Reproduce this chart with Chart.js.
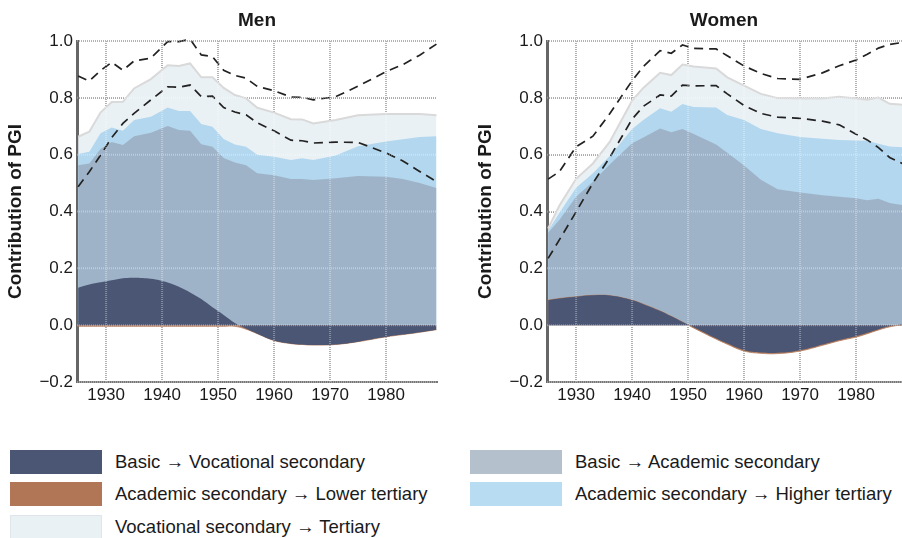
<!DOCTYPE html>
<html>
<head>
<meta charset="utf-8">
<script src="https://cdn.jsdelivr.net/npm/chart.js@4/dist/chart.umd.min.js"></script>
<style>
  html, body { margin:0; padding:0; background:#fff; overflow:hidden; }
  body { width:902px; height:538px; position:relative; font-family:'Liberation Sans', Arial, sans-serif; color:#1a1a1a; }
  canvas { position:absolute; top:0; }
  #men { left:0; }
  #women { left:470px; }
  .title { position:absolute; top:9px; font-weight:bold; font-size:19px; line-height:22px; transform:translateX(-50%); }
  .item { position:absolute; height:25px; display:flex; align-items:center; font-size:18.5px; white-space:nowrap; }
  .sw { width:92px; height:24px; margin-right:13px; box-sizing:border-box; flex:none; }
</style>
</head>
<body>
<canvas id="men" width="450" height="420"></canvas>
<canvas id="women" width="450" height="420"></canvas>
<div class="title" style="left:257px">Men</div>
<div class="title" style="left:724px">Women</div>
<div id="legend"></div>
<script>
// --- data: stacked contributions, one value per birth year ---
const menYears       = [1925,1927,1929,1931,1933,1935,1938,1941,1943,1945,1947,1949,1951,1953,1955,1957,1960,1963,1965,1967,1971,1975,1980,1983,1986,1989];
const menBasicVoc    = [0.132,0.143,0.151,0.158,0.165,0.167,0.163,0.150,0.135,0.115,0.092,0.063,0.036,0.008,-0.012,-0.030,-0.054,-0.065,-0.068,-0.070,-0.068,-0.058,-0.041,-0.033,-0.025,-0.016];
const menAcadLower   = [-0.004,-0.004,-0.004,-0.004,-0.004,-0.004,-0.004,-0.004,-0.004,-0.004,-0.004,-0.004,-0.004,-0.004,-0.002,0,0,0,0,0,0,0,0,0,0,0];
const menBasicAcad   = [0.431,0.426,0.469,0.487,0.469,0.498,0.514,0.551,0.552,0.569,0.545,0.565,0.552,0.564,0.563,0.535,0.528,0.514,0.514,0.511,0.517,0.525,0.522,0.514,0.500,0.483];
const menAcadHigher  = [0.039,0.041,0.055,0.051,0.050,0.057,0.056,0.065,0.067,0.070,0.071,0.070,0.067,0.064,0.065,0.065,0.065,0.067,0.073,0.070,0.080,0.105,0.124,0.140,0.162,0.182];
const menVocTert     = [0.061,0.071,0.073,0.089,0.102,0.111,0.133,0.149,0.158,0.167,0.164,0.174,0.180,0.174,0.170,0.165,0.155,0.144,0.137,0.129,0.125,0.109,0.097,0.089,0.081,0.074];
const menUpper       = [0.877,0.859,0.896,0.925,0.897,0.930,0.940,0.998,0.998,1.006,0.951,0.945,0.897,0.879,0.869,0.840,0.825,0.803,0.802,0.793,0.804,0.841,0.892,0.917,0.950,0.989];
const menLower       = [0.487,0.540,0.598,0.660,0.710,0.745,0.793,0.839,0.837,0.845,0.804,0.806,0.766,0.750,0.740,0.712,0.684,0.651,0.649,0.641,0.644,0.643,0.606,0.578,0.541,0.505];

const womenYears      = [1925,1927,1930,1933,1936,1940,1942,1945,1947,1949,1951,1955,1957,1960,1963,1966,1970,1974,1977,1980,1982,1984,1986,1989];
const womenBasicVoc   = [0.088,0.094,0.100,0.105,0.104,0.088,0.074,0.050,0.031,0.011,-0.007,-0.046,-0.064,-0.088,-0.096,-0.097,-0.088,-0.068,-0.052,-0.039,-0.027,-0.014,-0.004,0.004];
const womenAcadLower  = [0,0,0,0,0,0,0,0,0,0,-0.003,-0.003,-0.003,-0.003,-0.003,-0.003,-0.003,-0.003,-0.003,-0.003,-0.003,-0.003,-0.002,0];
const womenBasicAcad  = [0.237,0.276,0.352,0.400,0.461,0.552,0.586,0.642,0.648,0.679,0.673,0.636,0.607,0.562,0.512,0.478,0.467,0.457,0.452,0.447,0.440,0.445,0.430,0.416];
const womenAcadHigher = [0.007,0.025,0.032,0.030,0.030,0.050,0.062,0.071,0.072,0.088,0.095,0.130,0.133,0.160,0.178,0.197,0.195,0.199,0.200,0.203,0.209,0.193,0.199,0.205];
const womenVocTert    = [0.008,0.025,0.031,0.034,0.050,0.100,0.113,0.125,0.129,0.139,0.142,0.137,0.132,0.121,0.124,0.124,0.136,0.142,0.152,0.148,0.144,0.163,0.150,0.150];
const womenUpper      = [0.514,0.540,0.628,0.665,0.744,0.860,0.910,0.966,0.957,0.986,0.974,0.972,0.948,0.912,0.886,0.868,0.865,0.888,0.913,0.933,0.953,0.975,0.988,0.997];
const womenLower      = [0.235,0.300,0.399,0.500,0.590,0.725,0.770,0.810,0.806,0.845,0.842,0.843,0.814,0.773,0.745,0.732,0.728,0.718,0.705,0.672,0.652,0.625,0.590,0.562];

const labels = ['Basic \u2192 Vocational secondary', 'Academic secondary \u2192 Lower tertiary',
                'Basic \u2192 Academic secondary', 'Academic secondary \u2192 Higher tertiary',
                'Vocational secondary \u2192 Tertiary'];

const FONT = "'Liberation Sans', Arial, sans-serif";
const fill = ['#4a5674', '#b07656', '#9fb3c8', '#b2d7ee', '#eaf1f5'];
const none = 'rgba(0,0,0,0)';

const pts = (years, vals) => years.map((x, i) => ({ x, y: vals[i] }));

// whitish dotted grid over the areas
const gridOnTop = {
  id: 'gridOnTop',
  afterDatasetsDraw(chart) {
    const { ctx, chartArea: a, scales: { x, y } } = chart;
    ctx.save();
    ctx.strokeStyle = 'rgba(255,255,255,0.32)';
    ctx.lineWidth = 2;
    ctx.setLineDash([1, 1]);
    ctx.beginPath();
    x.ticks.forEach(t => { const p = x.getPixelForValue(t.value); ctx.moveTo(p, a.top); ctx.lineTo(p, a.bottom); });
    y.ticks.forEach(t => { const p = y.getPixelForValue(t.value); ctx.moveTo(a.left, p); ctx.lineTo(a.right, p); });
    ctx.stroke();
    ctx.restore();
  }
};

function yFmt(v) {
  if (Math.abs(v) < 1e-9) return '0.0';
  return (v < 0 ? '\u2212' : '') + Math.abs(v).toFixed(1);
}

function makeChart(id, years, s) {
  const area = (i, vals, extra) => Object.assign({
    label: labels[i], data: pts(years, vals), backgroundColor: fill[i],
    borderColor: none, borderWidth: 0, fill: 'origin', pointRadius: 0
  }, extra || {});
  const dashed = (vals, key) => ({
    label: key, data: pts(years, vals), stack: key, order: -1, clip: false,
    borderColor: '#222', borderWidth: 1.7, borderDash: [9, 6], fill: false, pointRadius: 0
  });
  return new Chart(document.getElementById(id), {
    type: 'line',
    data: {
      datasets: [
        area(0, s.basicVoc, { tension: 0.4 }),
        area(1, s.acadLower, { tension: 0.4, borderColor: fill[1], borderWidth: 0.8 }),
        area(2, s.basicAcad),
        area(3, s.acadHigher),
        area(4, s.vocTert, { borderColor: '#d9d9d9', borderWidth: 2 }),
        dashed(s.upper, 'upper'),
        dashed(s.lower, 'lower')
      ]
    },
    options: {
      responsive: false,
      animation: false,
      layout: { padding: { left: 0, right: 13, top: 41, bottom: 0 } },
      plugins: { legend: { display: false }, tooltip: { enabled: false } },
      scales: {
        x: {
          type: 'linear', min: 1924.8, max: 1989.1,
          ticks: { stepSize: 10, includeBounds: false, padding: 3, maxRotation: 0,
                   color: '#1a1a1a', font: { family: FONT, size: 17 }, callback: v => String(v) },
          grid: { color: '#909090', lineWidth: 2, drawTicks: false },
          border: { color: '#777', width: 2, dash: [1, 1] },
          afterFit: sc => { sc.height = 38; }
        },
        y: {
          stacked: true, min: -0.2, max: 1.0,
          ticks: { stepSize: 0.2, padding: 4, color: '#1a1a1a', font: { family: FONT, size: 17 }, callback: yFmt },
          grid: { color: '#909090', lineWidth: 2, drawTicks: false },
          border: { color: '#666', width: 3, dash: [1, 1] },
          title: { display: true, text: 'Contribution of PGI', color: '#1a1a1a',
                   font: { family: FONT, size: 19, weight: 'bold' }, padding: { top: 4, bottom: 0 } },
          afterFit: sc => { sc.width = 77; }
        }
      }
    },
    plugins: [gridOnTop]
  });
}

makeChart('men', menYears, {
  basicVoc: menBasicVoc, acadLower: menAcadLower, basicAcad: menBasicAcad,
  acadHigher: menAcadHigher, vocTert: menVocTert, upper: menUpper, lower: menLower
});
makeChart('women', womenYears, {
  basicVoc: womenBasicVoc, acadLower: womenAcadLower, basicAcad: womenBasicAcad,
  acadHigher: womenAcadHigher, vocTert: womenVocTert, upper: womenUpper, lower: womenLower
});

// legend, two columns like the figure
const legendItems = [
  { i: 0, col: 0, row: 0, color: '#4a5674' },
  { i: 1, col: 0, row: 1, color: '#b07656' },
  { i: 4, col: 0, row: 2, color: '#eaf1f5', border: '#dfe5ea' },
  { i: 2, col: 1, row: 0, color: '#b4c0cc' },
  { i: 3, col: 1, row: 1, color: '#b8ddf2' }
];
const lg = document.getElementById('legend');
legendItems.forEach(it => {
  const d = document.createElement('div');
  d.className = 'item';
  d.style.left = (it.col ? 470 : 10) + 'px';
  d.style.top = (449 + it.row * 32.7) + 'px';
  const sw = document.createElement('span');
  sw.className = 'sw';
  sw.style.background = it.color;
  if (it.border) sw.style.border = '1px solid ' + it.border;
  d.appendChild(sw);
  d.appendChild(document.createTextNode(labels[it.i]));
  lg.appendChild(d);
});
</script>
</body>
</html>
